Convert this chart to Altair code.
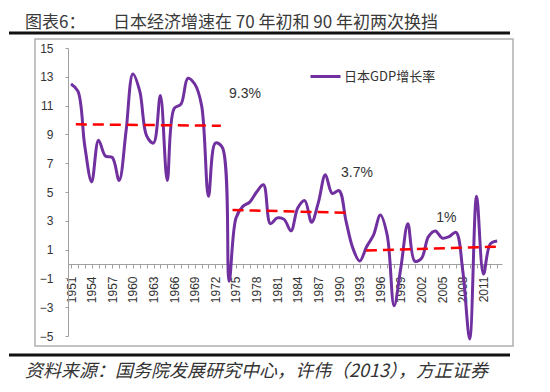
import altair as alt
import pandas as pd

years = list(range(1951, 2014))
gdp = [12.5, 12.0, 8.2, 5.7, 8.6, 7.5, 7.4, 5.8, 9.2, 13.2,
       12.0, 8.9, 8.4, 11.7, 5.8, 10.8, 11.1, 12.9, 12.5, 11.0,
       4.7, 8.4, 8.1, -1.2, 3.2, 4.0, 4.3, 5.0, 5.5, 2.8,
       3.2, 3.1, 2.3, 3.9, 4.4, 2.9, 4.3, 6.2, 4.9, 5.1,
       3.0, 1.1, 0.2, 1.2, 2.0, 3.4, 2.0, -2.9, -0.2, 2.8,
       0.2, 0.4, 1.9, 2.3, 1.8, 1.9, 2.2, -0.5, -5.2, 4.7,
       -0.7, 1.4, 1.6]
series_name = "日本GDP增长率"

seg_id = ["a", "a", "b", "b", "c", "c"]
seg_x = [1951.7, 1972.8, 1974.5, 1991.6, 1993.9, 2013.0]
seg_y = [9.7, 9.6, 3.75, 3.55, 0.93, 1.2]

ann_text = ["9.3%", "3.7%", "1%"]
ann_x = [1976.3, 1992.6, 2005.6]
ann_y = [11.8, 6.3, 3.2]

tick_years = list(range(1951, 2014))
y_ticks = [15, 13, 11, 9, 7, 5, 3, 1, -1, -3, -5]

title_left = "图表6："
title_main = "日本经济增速在 70 年初和 90 年初两次换挡"
source_text = "资料来源：国务院发展研究中心，许伟（2013），方正证券"

df = pd.DataFrame({"year": years, "gdp": gdp, "series": series_name})
seg_df = pd.DataFrame({"seg": seg_id, "x": seg_x, "y": seg_y})
ann_df = pd.DataFrame({"t": ann_text, "x": ann_x, "y": ann_y})

W, H = 434, 288
xs = alt.Scale(domain=[1950.56, 2013.7], nice=False, zero=False)
ys = alt.Scale(domain=[-5, 15], nice=False, zero=False)

one = alt.Data(values=[{}])
CJK = "Noto Sans CJK SC"
NUM = "Liberation Sans"

x_axis = alt.Axis(values=tick_years, offset=-72, labelAngle=270, labelAlign="right",
                  labelBaseline="middle", labelOverlap=False, labelFlush=False,
                  labelExpr="(datum.value - 1951) % 3 == 0 ? datum.value : ''",
                  labelFont=NUM, labelFontSize=12, labelColor="#333333", labelPadding=8,
                  tickSize=4, tickColor="#a0a0a0", domainColor="#a0a0a0", grid=False, title=None)
y_axis = alt.Axis(values=y_ticks, labelFont=NUM, labelFontSize=12, labelColor="#333333",
                  labelOverlap=False, labelFlush=False,
                  labelPadding=12, tickSize=3, tickColor="#a0a0a0", domainColor="#a0a0a0",
                  grid=False, title=None)

box = alt.Chart(one).mark_rect(filled=False, stroke="#b0b0b0", strokeWidth=1.5).encode(
    x=alt.value(-33), x2=alt.value(445), y=alt.value(-9), y2=alt.value(298))
top_rule = alt.Chart(one).mark_rule(color="#111111", strokeWidth=3).encode(
    x=alt.value(-59), x2=alt.value(442), y=alt.value(-15))
bot_rule = alt.Chart(one).mark_rule(color="#111111", strokeWidth=3).encode(
    x=alt.value(-59), x2=alt.value(442), y=alt.value(307))
t1 = alt.Chart(one).mark_text(font=CJK, fontSize=17, color="#3a3a3a", align="left", baseline="alphabetic").encode(
    x=alt.value(-43), y=alt.value(-20), text=alt.value(title_left))
t2 = alt.Chart(one).mark_text(font=CJK, fontSize=17, color="#3a3a3a", align="left", baseline="alphabetic").encode(
    x=alt.value(45), y=alt.value(-20), text=alt.value(title_main))
src = alt.Chart(one).mark_text(font=CJK, fontSize=18, fontStyle="italic", color="#333333", align="left", baseline="middle").encode(
    x=alt.value(-43), y=alt.value(324), text=alt.value(source_text))

line = alt.Chart(df).mark_line(strokeWidth=3, interpolate="catmull-rom").encode(
    x=alt.X("year:Q", scale=xs, axis=x_axis),
    y=alt.Y("gdp:Q", scale=ys, axis=y_axis),
    color=alt.Color("series:N", scale=alt.Scale(domain=[series_name], range=["#7030A0"]),
                    legend=alt.Legend(title=None, orient="none", legendX=241, legendY=12,
                                      symbolType="stroke", symbolStrokeWidth=3, symbolSize=900,
                                      labelFont=CJK, labelFontSize=13, labelColor="#333333",
                                      labelOffset=2, padding=0)),
)

dash = alt.Chart(seg_df).mark_line(color="#FF0000", strokeWidth=2.5, strokeDash=[11, 6]).encode(
    x=alt.X("x:Q", scale=xs, axis=x_axis), y=alt.Y("y:Q", scale=ys, axis=y_axis), detail="seg:N")

ann = alt.Chart(ann_df).mark_text(font=NUM, fontSize=14, color="#333333").encode(
    x=alt.X("x:Q", scale=xs, axis=x_axis), y=alt.Y("y:Q", scale=ys, axis=y_axis), text="t:N")

chart = alt.layer(box, top_rule, bot_rule, t1, t2, src, line, dash, ann).properties(
    width=W, height=H, autosize="none",
    padding={"left": 60, "top": 40, "right": 40, "bottom": 48},
).configure_view(stroke=None)

chart.save("out.html", embed_options={"renderer": "svg", "actions": False})
